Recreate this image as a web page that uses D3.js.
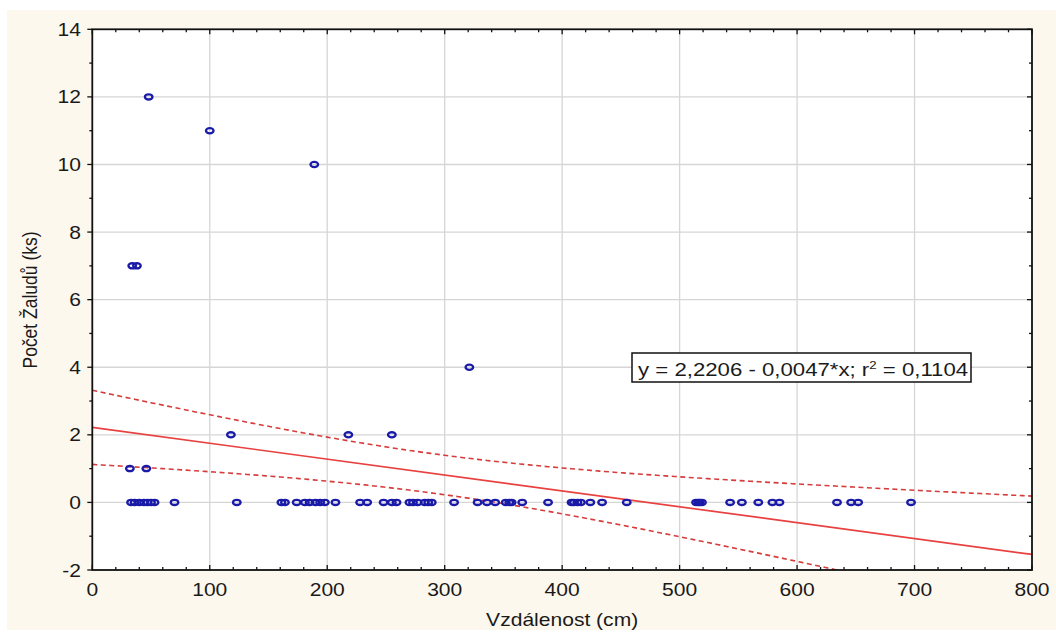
<!DOCTYPE html>
<html>
<head>
<meta charset="utf-8">
<script src="https://cdn.jsdelivr.net/npm/d3@7"></script>
<style>
  body { margin: 0; background: #ffffff; }
  text { font-family: "Liberation Sans", Arial, sans-serif; fill: #1a1a1a; }
</style>
</head>
<body>
<svg id="chart" width="1056" height="632"></svg>
<script>
// Observations: distance from the tree (cm) and number of acorns found
const distanceCm = [
  48, 100, 189, 34, 38, 321, 118, 218, 255, 32, 46,
  33, 36, 40, 44, 47, 50, 53,
  70, 123,
  161, 164, 174, 181, 185, 190, 194, 198, 207,
  228, 234, 248, 255, 259,
  270, 273, 277, 283, 286, 289,
  308, 328, 336, 343, 352, 355, 357, 366,
  388, 408, 410, 413, 416, 424, 434, 455,
  514, 516, 517, 519,
  543, 553, 567, 579, 585,
  634, 646, 652, 697
];
const acornCount = [
  12, 11, 10, 7, 7, 4, 2, 2, 2, 1, 1,
  0, 0, 0, 0, 0, 0, 0,
  0, 0,
  0, 0, 0, 0, 0, 0, 0, 0, 0,
  0, 0, 0, 0, 0,
  0, 0, 0, 0, 0, 0,
  0, 0, 0, 0, 0, 0, 0, 0,
  0, 0, 0, 0, 0, 0, 0, 0,
  0, 0, 0, 0,
  0, 0, 0, 0, 0,
  0, 0, 0, 0
];

// Axis ticks
const xTicks = [0, 100, 200, 300, 400, 500, 600, 700, 800];
const yTicks = [-2, 0, 2, 4, 6, 8, 10, 12, 14];

// Fitted linear model
const fitIntercept = 2.2206;
const fitSlope = -0.0047;
const fitR2 = 0.1104;
const tCritical95 = 1.996; // two-sided 95 %, df = n - 2

const xTitle = "Vzdálenost (cm)";
const yTitle = "Počet Žaludů (ks)";

const W = 1056, H = 632;
const plot = { left: 92.3, right: 1032, top: 29.3, bottom: 570 };
const textStretch = 1.17;

const svg = d3.select("#chart");

// Panel background
svg.append("rect")
  .attr("x", 7).attr("y", 10).attr("width", W - 7).attr("height", 620)
  .attr("fill", "#fdf8ee");
svg.append("rect")
  .attr("x", plot.left).attr("y", plot.top)
  .attr("width", plot.right - plot.left).attr("height", plot.bottom - plot.top)
  .attr("fill", "#ffffff");

const x = d3.scaleLinear().domain([0, 800]).range([plot.left, plot.right]);
const y = d3.scaleLinear().domain([-2, 14]).range([plot.bottom, plot.top]);

// Grid
const grid = svg.append("g").attr("stroke", "#d6d6d6").attr("stroke-width", 1.3);
grid.selectAll("line.gx").data(xTicks.slice(1, -1)).join("line")
  .attr("x1", d => x(d)).attr("x2", d => x(d))
  .attr("y1", plot.top).attr("y2", plot.bottom);
grid.selectAll("line.gy").data(yTicks.slice(1, -1)).join("line")
  .attr("x1", plot.left).attr("x2", plot.right)
  .attr("y1", d => y(d)).attr("y2", d => y(d));

// Clip for the model lines
svg.append("clipPath").attr("id", "plotClip")
  .append("rect")
  .attr("x", plot.left).attr("y", plot.top)
  .attr("width", plot.right - plot.left).attr("height", plot.bottom - plot.top);

// Confidence band for the regression mean
const n = distanceCm.length;
const meanX = d3.mean(distanceCm);
const sxx = d3.sum(distanceCm, d => (d - meanX) ** 2);
const sse = d3.sum(distanceCm, (d, i) => (acornCount[i] - (fitIntercept + fitSlope * d)) ** 2);
const sRes = Math.sqrt(sse / (n - 2));
const bandX = d3.range(0, 801, 4);
const halfWidth = xv => tCritical95 * sRes * Math.sqrt(1 / n + (xv - meanX) ** 2 / sxx);
const fitAt = xv => fitIntercept + fitSlope * xv;

const lineGen = d3.line().x(d => x(d[0])).y(d => y(d[1]));
const models = svg.append("g").attr("clip-path", "url(#plotClip)");

models.append("path")
  .attr("d", lineGen(bandX.map(v => [v, fitAt(v) + halfWidth(v)])))
  .attr("fill", "none").attr("stroke", "#d63c3c").attr("stroke-width", 1.6)
  .attr("stroke-dasharray", "5,3.5");
models.append("path")
  .attr("d", lineGen(bandX.map(v => [v, fitAt(v) - halfWidth(v)])))
  .attr("fill", "none").attr("stroke", "#d63c3c").attr("stroke-width", 1.6)
  .attr("stroke-dasharray", "5,3.5");
models.append("path")
  .attr("d", lineGen([[0, fitAt(0)], [800, fitAt(800)]]))
  .attr("fill", "none").attr("stroke", "#e8413f").attr("stroke-width", 1.7);

// Observations
svg.append("g").selectAll("ellipse")
  .data(distanceCm.map((d, i) => [d, acornCount[i]]))
  .join("ellipse")
  .attr("cx", d => x(d[0])).attr("cy", d => y(d[1]))
  .attr("rx", 3.8).attr("ry", 2.6)
  .attr("fill", "none").attr("stroke", "#1a1aa8").attr("stroke-width", 2.3);

// Frame
svg.append("rect")
  .attr("x", plot.left).attr("y", plot.top)
  .attr("width", plot.right - plot.left).attr("height", plot.bottom - plot.top)
  .attr("fill", "none").attr("stroke", "#111").attr("stroke-width", 1.8);

// Tick marks
const ticks = svg.append("g").attr("stroke", "#111").attr("stroke-width", 1.3);
const xMinor = d3.range(0, 801, 20);
const yMinor = d3.range(-2, 14.01, 1);
ticks.selectAll("line.xb").data(xMinor).join("line")
  .attr("x1", d => x(d)).attr("x2", d => x(d))
  .attr("y1", plot.bottom).attr("y2", d => plot.bottom - (d % 100 === 0 ? 5 : 3));
ticks.selectAll("line.xt").data(xMinor).join("line")
  .attr("x1", d => x(d)).attr("x2", d => x(d))
  .attr("y1", plot.top).attr("y2", d => plot.top + (d % 100 === 0 ? 5 : 3));
ticks.selectAll("line.yl").data(yMinor).join("line")
  .attr("y1", d => y(d)).attr("y2", d => y(d))
  .attr("x1", plot.left).attr("x2", d => plot.left - (d % 2 === 0 ? 5 : 3));
ticks.selectAll("line.yr").data(yMinor).join("line")
  .attr("y1", d => y(d)).attr("y2", d => y(d))
  .attr("x1", plot.right).attr("x2", d => plot.right - (d % 2 === 0 ? 5 : 3));

// Text helper with horizontal stretch
function label(txt, px, py, size, anchor) {
  return svg.append("text")
    .attr("transform", `translate(${px},${py}) scale(${textStretch},1)`)
    .attr("text-anchor", anchor)
    .attr("font-size", size)
    .text(txt);
}

xTicks.forEach(v => label(String(v), x(v), 596, 18, "middle"));
yTicks.forEach(v => label(String(v), 81, y(v) + 6.5, 18, "end"));

label(xTitle, (plot.left + plot.right) / 2, 626, 18, "middle");
svg.append("text")
  .attr("transform", `translate(37,300) scale(${textStretch},1) rotate(-90)`)
  .attr("text-anchor", "middle")
  .attr("font-size", 17.5)
  .text(yTitle);

// Equation box
const fmt = v => v.toFixed(4).replace(".", ",");
const eqBox = { x: 632, y: 353, w: 339, h: 29 };
svg.append("rect")
  .attr("x", eqBox.x).attr("y", eqBox.y).attr("width", eqBox.w).attr("height", eqBox.h)
  .attr("fill", "#ffffff").attr("stroke", "#111").attr("stroke-width", 1.5);
const eq = svg.append("text")
  .attr("transform", `translate(${eqBox.x + 6},${eqBox.y + 23}) scale(1.2,1)`)
  .attr("font-size", 18.5);
eq.append("tspan").text(`y = ${fmt(fitIntercept)} - ${fmt(-fitSlope)}*x; r`);
eq.append("tspan").attr("font-size", 11).attr("dy", -7).text("2");
eq.append("tspan").attr("dy", 7).text(` = ${fmt(fitR2)}`);
</script>
</body>
</html>
